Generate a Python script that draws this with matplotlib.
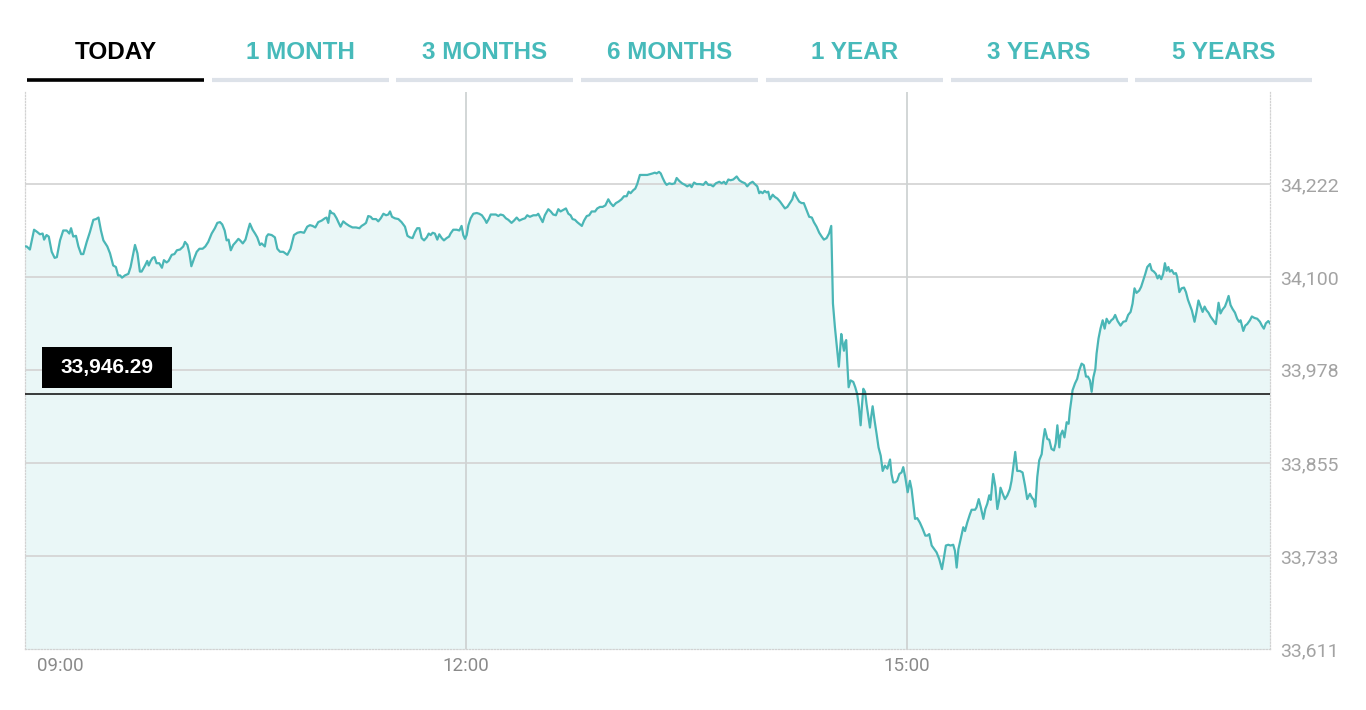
import matplotlib
matplotlib.use("Agg")
import matplotlib.pyplot as plt
from matplotlib.patches import Rectangle
from matplotlib.lines import Line2D
from matplotlib.transforms import blended_transform_factory, ScaledTranslation

# minutes after 09:00 and the index level
minutes = [
    0.0, 0.7, 2.0, 3.7, 5.0, 6.1, 7.2, 7.8, 8.8, 9.7, 10.9, 12.1, 13.0, 14.3, 15.6, 17.0, 18.1, 18.8, 19.7, 20.8,
    21.8, 22.9, 23.8, 25.2, 26.5, 27.9, 29.0, 30.0, 31.0, 32.0, 33.6, 34.7, 36.0, 37.1, 38.0, 38.8, 39.6, 40.8, 42.2, 43.1,
    44.9, 45.9, 46.9, 47.6, 49.0, 49.9, 50.5, 51.3, 52.1, 52.9, 53.7, 54.8, 55.9, 56.7, 57.8, 58.6, 59.9, 61.0, 62.0, 63.3,
    64.6, 65.3, 66.3, 67.1, 67.9, 69.0, 70.1, 71.2, 72.5, 73.6, 74.8, 76.2, 77.5, 78.5, 79.6, 80.5, 81.5, 82.3, 83.1, 84.0,
    85.0, 86.1, 87.1, 87.8, 88.9, 90.0, 91.0, 91.8, 92.9, 93.9, 94.8, 95.9, 96.6, 97.9, 98.6, 99.3, 100.7, 102.0, 103.0, 104.1,
    105.4, 107.1, 108.4, 109.8, 111.2, 112.5, 113.9, 115.2, 116.3, 117.4, 118.5, 119.7, 121.1, 122.4, 123.1, 123.8,
    124.5, 125.2, 126.1, 127.2, 127.9, 128.8, 129.9, 131.0, 132.4, 133.7, 135.1, 136.5, 137.4, 138.4, 139.2, 140.1, 141.1, 141.9,
    143.3, 144.2, 145.2, 146.3, 147.4, 148.3, 149.0, 149.8, 151.0, 152.4, 153.7, 155.1, 156.1, 157.1, 158.2, 159.2, 160.1, 161.0,
    161.9, 162.9, 164.0, 164.8, 165.6, 166.4, 167.3, 168.3, 169.1, 170.1, 171.0, 172.1, 173.1, 173.7, 174.8, 176.2, 177.3, 178.2,
    178.9, 179.6, 180.3, 181.0, 181.9, 183.0, 184.4, 185.4, 186.5, 187.8, 188.4, 189.3, 190.1, 191.2, 192.2, 193.2, 194.1, 195.2,
    196.3, 197.3, 198.6, 199.6, 200.7, 201.8, 203.1, 204.1, 205.0, 206.1, 207.5, 208.8, 209.5, 210.5, 211.3, 212.2, 213.6, 214.6,
    215.6, 216.7, 217.7, 218.6, 219.7, 220.8, 221.8, 222.7, 223.5, 224.5, 225.4, 226.5, 227.3, 228.2, 229.3, 230.3, 231.3, 232.7,
    233.6, 234.7, 235.8, 236.9, 238.1, 239.0, 240.1, 241.2, 242.3, 243.5, 244.5, 245.6, 246.4, 247.2, 248.3, 249.1, 249.9,
    251.0, 252.7, 254.0, 255.1, 256.2, 257.1, 257.8, 258.8, 259.5, 260.3, 261.2, 261.9, 263.0, 264.1, 265.2, 266.0, 267.1, 268.2,
    269.4, 270.3, 271.4, 272.1, 273.1, 274.1, 275.5, 276.9, 277.9, 278.9, 279.9, 280.9, 282.0, 283.4, 284.4, 285.3, 286.1, 287.1,
    288.0, 289.1, 290.5, 291.6, 292.5, 293.9, 294.8, 295.9, 297.0, 297.9, 298.9, 299.7, 300.3, 301.1, 301.9, 302.7, 303.4, 304.1,
    305.2, 306.1, 307.1, 308.2, 309.3, 310.2, 311.2, 312.2, 313.2, 314.0, 314.9, 316.0, 317.0, 317.9, 319.0, 320.1, 321.2, 322.0,
    323.1, 324.2, 325.2, 326.1, 327.2, 328.2, 329.1, 329.4, 329.8, 330.6, 331.6, 332.2, 333.2, 333.7, 334.3, 334.8, 335.2, 335.6,
    336.2, 337.0, 338.1, 338.9, 339.7, 340.4, 341.1, 341.6, 342.2, 342.9, 343.5, 344.4, 344.9, 345.4, 346.0, 346.8, 347.6, 348.4,
    349.3, 350.1, 351.0, 352.0, 353.1, 353.7, 354.4, 355.2, 356.0, 356.9, 357.8, 358.5, 359.3, 360.3, 361.2, 361.9, 362.6, 363.3,
    364.2, 365.3, 366.4, 367.5, 368.3, 369.1,
    370.1, 371.0, 372.1, 373.2, 374.3, 375.1, 375.9, 376.9, 377.8, 378.9, 379.6, 380.3, 381.0, 381.9, 383.0, 383.7, 384.6, 385.7,
    386.4, 387.8, 388.4, 389.3, 390.1, 391.2, 392.0, 392.8, 393.6, 394.2, 394.7, 395.2, 396.1, 396.9, 397.7, 398.2, 399.1, 400.0,
    401.0, 402.0, 402.7, 403.4, 404.2, 405.0, 406.1, 407.2, 408.2, 409.1, 410.2, 411.0, 411.8, 412.4, 413.2, 414.0, 415.0, 415.6,
    416.3, 417.3, 418.1, 419.0, 420.0, 420.7, 421.4, 422.2, 422.7, 423.5, 424.3, 425.2, 426.0, 426.5, 427.1, 427.6, 428.6, 429.5,
    430.3, 431.3, 432.2, 433.1, 433.9, 434.7, 435.4, 436.1, 436.9, 437.4, 438.2, 439.0, 439.9, 440.7, 441.5, 442.5, 443.4, 444.2,
    445.0, 446.0, 447.2, 448.3, 449.4, 450.3, 451.3, 452.1, 452.9, 453.7, 454.8, 455.6, 456.5, 457.3, 458.1, 459.2, 459.9, 460.8,
    461.6, 462.3, 463.0, 463.8, 464.6, 465.3, 466.0, 466.7, 467.3, 468.1, 469.0, 469.8, 470.3, 471.2, 472.1, 473.1, 473.9, 474.7,
    475.5, 476.3, 477.4, 478.2, 479.0, 479.9, 480.7, 481.5, 482.3, 483.1, 483.9, 485.0, 486.1, 487.2, 488.0, 488.8, 489.8, 490.5,
    491.3, 492.1, 492.9, 493.9, 494.8, 495.6, 496.2, 497.3, 498.1, 498.9, 500.0, 500.8, 501.9, 503.0, 504.1, 504.9, 505.7, 506.5,
    507.5, 508.2,
]
index_level = [
    34140, 34140, 34136, 34162, 34159, 34156, 34157, 34149, 34155, 34153, 34133, 34125, 34126, 34148, 34161, 34161, 34157, 34164, 34153, 34154,
    34140, 34130, 34130, 34146, 34159, 34175, 34176, 34178, 34161, 34148, 34140, 34131, 34115, 34113, 34102, 34102, 34099, 34102, 34104, 34113,
    34142, 34131, 34107, 34107, 34115, 34121, 34115, 34121, 34125, 34126, 34118, 34118, 34112, 34122, 34119, 34121, 34129, 34130, 34135, 34136,
    34140, 34146, 34142, 34131, 34114, 34124, 34133, 34137, 34137, 34140, 34146, 34157, 34164, 34171, 34172, 34169, 34161, 34148, 34149, 34135,
    34142, 34146, 34150, 34148, 34144, 34149, 34161, 34170, 34162, 34157, 34152, 34142, 34144, 34140, 34153, 34156, 34155, 34152, 34137, 34133,
    34133, 34129, 34137, 34155, 34158, 34159, 34158, 34166, 34168, 34167, 34165, 34172, 34174, 34177, 34178, 34171,
    34187, 34184, 34183, 34177, 34172, 34166, 34173, 34170, 34167, 34165, 34165, 34164, 34167, 34169, 34171, 34180, 34179, 34176,
    34176, 34173, 34177, 34183, 34181, 34182, 34186, 34179, 34177, 34176, 34172, 34166, 34154, 34152, 34151, 34159, 34164, 34164,
    34151, 34148, 34152, 34157, 34155, 34158, 34157, 34149, 34156, 34151, 34148, 34151, 34153, 34157, 34162, 34162, 34161, 34167,
    34155, 34150, 34155, 34168, 34177, 34183, 34184, 34183, 34181, 34175, 34171, 34176, 34182, 34182, 34182, 34180, 34182, 34181,
    34177, 34175, 34171, 34174, 34178, 34174, 34176, 34177, 34181, 34179, 34181, 34181, 34183, 34177, 34172, 34181, 34189, 34186,
    34182, 34181, 34189, 34186, 34188, 34190, 34183, 34181, 34176, 34175, 34172, 34169, 34167, 34174, 34180, 34181, 34186, 34186,
    34190, 34192, 34192, 34194, 34202, 34197, 34193, 34197, 34199, 34202, 34206, 34206, 34212, 34210, 34214, 34216, 34222,
    34234, 34234, 34234, 34235, 34236, 34237, 34236, 34238, 34236, 34230, 34224, 34221, 34223, 34222, 34223, 34230, 34226, 34223,
    34221, 34219, 34221, 34218, 34224, 34222, 34222, 34221, 34225, 34221, 34221, 34219, 34223, 34225, 34223, 34225, 34222, 34228,
    34227, 34228, 34232, 34227, 34225, 34223, 34219, 34223, 34225, 34222, 34219, 34210, 34212, 34210, 34213, 34211, 34212, 34202,
    34208, 34205, 34203, 34199, 34194, 34190, 34192, 34197, 34202, 34211, 34205, 34199, 34197, 34197, 34188, 34179, 34178, 34172,
    34166, 34158, 34153, 34149, 34151, 34157, 34167, 34122, 34065, 34034, 34001, 33982, 34025, 34014, 34003, 34014, 34017, 33990,
    33955, 33964, 33962, 33955, 33946, 33929, 33905, 33929, 33953, 33949, 33933, 33913, 33902, 33916, 33930, 33911, 33894, 33876,
    33865, 33845, 33852, 33848, 33860, 33841, 33830, 33830, 33832, 33841, 33843, 33850, 33837, 33817, 33832, 33821, 33802, 33782,
    33783, 33777, 33769, 33760, 33760, 33762,
    33747, 33743, 33738, 33729, 33716, 33731, 33747, 33748, 33747, 33748, 33740, 33718, 33742, 33755, 33771, 33766, 33777, 33788,
    33794, 33794, 33797, 33808, 33798, 33782, 33795, 33802, 33813, 33807, 33824, 33841, 33824, 33795, 33808, 33823, 33815, 33808,
    33813, 33821, 33832, 33850, 33870, 33845, 33845, 33843, 33826, 33808, 33815, 33810, 33807, 33798, 33837, 33859, 33867, 33885,
    33900, 33887, 33886, 33874, 33872, 33881, 33905, 33876, 33892, 33898, 33889, 33909, 33907, 33924, 33938, 33951, 33960, 33966,
    33977, 33986, 33984, 33969, 33969, 33964, 33949, 33968, 33979, 33999, 34019, 34032, 34043, 34032, 34045, 34039, 34043, 34045,
    34050, 34042, 34036, 34041, 34042, 34050, 34054, 34065, 34085, 34079, 34082, 34087, 34096, 34104, 34113, 34117, 34109, 34107,
    34104, 34098, 34102, 34097, 34104, 34118, 34108, 34113, 34107, 34109, 34104, 34105, 34100, 34080, 34085, 34086, 34080, 34070,
    34063, 34056, 34041, 34054, 34069, 34061, 34054, 34061, 34056, 34053, 34048, 34043, 34038, 34066, 34052, 34057, 34061, 34067,
    34075, 34063, 34058, 34053, 34045, 34041, 34043, 34029, 34036, 34038, 34043, 34048, 34046, 34045, 34041, 34036, 34032, 34039,
    34042, 34039,
]
prev_close = 33946.29
y_ticks = [33611, 33733, 33855, 33978, 34100, 34222]
y_tick_labels = ["33,611", "33,733", "33,855", "33,978", "34,100", "34,222"]
x_ticks = [0, 180, 360]
x_tick_labels = ["09:00", "12:00", "15:00"]
tabs = ["TODAY", "1 MONTH", "3 MONTHS", "6 MONTHS", "1 YEAR", "3 YEARS", "5 YEARS"]

LINE = "#4ab6b6"
FILL = "#eaf7f7"
TEAL = "#47baba"
W, H = 1366, 710

fig = plt.figure(figsize=(W / 100, H / 100), dpi=100)
ax = fig.add_axes([25 / W, 61 / H, 1245 / W, 557 / H])

# area + line
ax.fill_between(minutes, index_level, 33400, color=FILL, lw=0, zorder=1)
for yt in y_ticks[1:]:
    ax.axhline(yt, color="#d5d5d5", lw=1.3, zorder=2)
for xt in x_ticks[1:]:
    ax.axvline(xt, color="#cfd3d3", lw=1.3, zorder=2)
ax.plot(minutes, index_level, color=LINE, lw=1.6, zorder=4)
ax.axhline(prev_close, color="#1a1a1a", lw=1.2, zorder=5)

ax.set_xlim(0, minutes[-1])
ax.set_ylim(33611, 34343)

# dotted frame
for side in ["left", "right", "bottom"]:
    ax.spines[side].set_linestyle((0, (1, 1.5)))
    ax.spines[side].set_color("#d2d2d2")
    ax.spines[side].set_linewidth(0.9)
ax.spines["top"].set_visible(False)

ax.yaxis.tick_right()
ax.set_yticks(y_ticks)
ax.set_yticklabels(y_tick_labels, family=["Roboto", "DejaVu Sans"], fontsize=14, color="#a3a3a3")
ax.set_xticks(x_ticks)
ax.set_xticklabels(x_tick_labels, family=["Roboto", "DejaVu Sans"], fontsize=13.5, color="#8a8a8a")
ax.tick_params(axis="y", length=0, pad=7)
ax.tick_params(axis="x", length=0, pad=6)
first = ax.get_xticklabels()[0]
first.set_ha("left")
first.set_transform(first.get_transform() + ScaledTranslation(0.12, 0, fig.dpi_scale_trans))

# previous close box
blend = blended_transform_factory(ax.transAxes, ax.transData)
ax.add_patch(Rectangle((17 / 1245, prev_close + 8), 130 / 1245, 54, transform=blend,
                       facecolor="black", edgecolor="none", zorder=6))
ax.text((17 + 65) / 1245, prev_close + 35, f"{prev_close:,.2f}", transform=blend,
        ha="center", va="center", color="white", fontsize=15, fontweight="bold",
        family=["Liberation Sans", "DejaVu Sans"], zorder=7)

# period tabs
for i, name in enumerate(tabs):
    left = 27 + 184.7 * i
    active = i == 0
    fig.text((left + 88.5) / W, 1 - 59 / H, name, ha="center", va="baseline",
             fontsize=17.5, fontweight="bold", color="black" if active else TEAL,
             family=["Liberation Sans Narrow", "Liberation Sans", "DejaVu Sans"])
    fig.add_artist(Line2D([left / W, (left + 177) / W], [1 - 80 / H] * 2,
                          color="black" if active else "#dde2e9", lw=2.6 if active else 3,
                          solid_capstyle="butt"))

fig.savefig("out.png", dpi=100)
